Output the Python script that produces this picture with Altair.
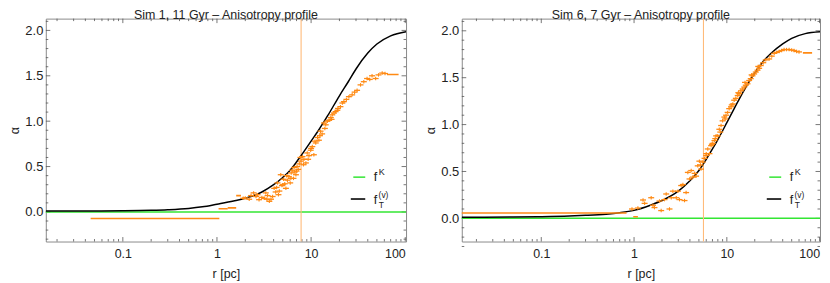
import altair as alt
import pandas as pd

# ---------------- data : left panel (Sim 1, 11 Gyr) ----------------
L_title = "Sim 1, 11 Gyr – Anisotropy profile"
L_xdomain = [0.0152, 102]
L_ydomain = [-0.326, 2.13]
L_vline = [7.83]

L_curve_r = [0.0152, 0.03, 0.05, 0.1, 0.2, 0.3, 0.5, 0.7, 1.0, 1.5, 2.0, 3.0, 4.0, 5.0,
             6.0, 7.0, 8.0, 10, 12, 15, 20, 25, 30, 40, 50, 70, 102]
L_curve_a = [0.010, 0.010, 0.011, 0.013, 0.018, 0.024, 0.038, 0.056, 0.085, 0.12, 0.15,
             0.22, 0.30, 0.38, 0.46, 0.55, 0.635, 0.78, 0.90, 1.06, 1.28, 1.44, 1.575,
             1.75, 1.85, 1.94, 1.985]

L_pts_r = [1.9, 2.0, 2.2, 2.45, 2.6, 2.8, 3.0, 3.17, 3.3, 3.45, 3.6, 3.75, 3.9, 4.05,
           4.2, 4.4, 4.6, 4.76, 4.9, 5.1, 5.25, 5.4, 5.6, 5.8, 6.0, 6.15, 6.3, 6.5, 6.7,
           6.9, 7.1, 7.3, 7.5, 7.8, 8.1, 8.4, 8.8, 9.1, 9.5, 9.9, 10.3, 10.7, 11.0, 11.2,
           11.7, 12.1, 12.6, 13.1, 13.7, 14.3, 14.9, 15.5, 16.2, 16.8, 17.5, 18.2, 19.3,
           20.5, 21.5, 22.3, 23.7, 25.2, 27.3, 29.0, 30.8, 33.5, 36.3, 39.3, 42.0, 44.4,
           48.5, 52.0, 56.9, 61.0,
           2.3, 2.7, 3.4, 4.3, 4.5, 5.0, 5.5, 6.1, 6.6, 7.0, 7.7, 8.3, 9.3, 10.0, 12.4,
           14.0, 16.5, 19.0]
L_pts_a = [0.15, 0.155, 0.14, 0.21, 0.17, 0.135, 0.16, 0.15, 0.21, 0.18, 0.117, 0.14,
           0.17, 0.26, 0.22, 0.32, 0.23, 0.41, 0.29, 0.36, 0.31, 0.26, 0.35, 0.39, 0.32,
           0.43, 0.46, 0.37, 0.44, 0.41, 0.50, 0.47, 0.53, 0.56, 0.61, 0.58, 0.54, 0.65,
           0.62, 0.68, 0.72, 0.63, 0.78, 0.76, 0.82, 0.79, 0.89, 0.86, 0.98, 0.96, 1.00,
           1.01, 1.04, 1.07, 1.09, 1.105, 1.14, 1.16, 1.20, 1.215, 1.24, 1.27, 1.29, 1.32,
           1.34, 1.40, 1.435, 1.47, 1.46, 1.50, 1.47, 1.51, 1.53, 1.525,
           0.18, 0.19, 0.14, 0.27, 0.19, 0.30, 0.40, 0.37, 0.49, 0.45, 0.60, 0.52, 0.58,
           0.70, 0.84, 0.92, 1.02, 1.12]

L_bin_lo = [0.0455, 1.04, 1.30, 1.60, 64.0]
L_bin_hi = [1.06, 1.30, 1.60, 1.80, 85.0]
L_bin_a = [-0.072, 0.035, 0.045, 0.18, 1.515]

# ---------------- data : right panel (Sim 6, 7 Gyr) ----------------
R_title = "Sim 6, 7 Gyr – Anisotropy profile"
R_xdomain = [0.0139, 101]
R_ydomain = [-0.247, 2.13]
R_vline = [5.6]

R_curve_r = [0.0139, 0.05, 0.1, 0.2, 0.3, 0.5, 0.7, 1.0, 1.5, 2.0, 3.0, 4.0, 5.0, 6.0,
             7.0, 8.0, 10, 12, 15, 20, 25, 30, 40, 50, 70, 101]
R_curve_a = [0.012, 0.014, 0.018, 0.025, 0.032, 0.045, 0.06, 0.085, 0.14, 0.19, 0.29,
             0.40, 0.51, 0.63, 0.74, 0.84, 1.02, 1.17, 1.35, 1.55, 1.68, 1.76, 1.86,
             1.92, 1.97, 1.99]

R_pts_r = [1.25, 1.3, 1.53, 1.6, 1.66, 1.88, 1.96, 2.13, 2.22, 2.41, 2.52, 2.62, 2.85,
           2.97, 3.09, 3.22, 3.36, 3.5, 3.64, 3.8, 3.96, 4.13, 4.3, 4.66, 4.86, 5.06,
           5.27, 5.5, 5.75, 5.98, 6.23, 6.5, 6.77, 7.05, 7.35, 7.66, 7.98, 8.3, 8.67, 9.0,
           9.4, 9.8, 10.2, 10.6, 11.1, 11.6, 12.0, 12.5, 13.1, 13.6, 14.2, 14.8, 15.4,
           16.0, 16.7, 17.4, 18.1, 18.9, 19.7, 20.5, 21.4, 22.3, 23.2, 24.7, 26.3, 28.6,
           30.5, 32.4, 34.5, 36.6, 39.0, 41.4, 44.0, 46.9, 50.0, 53.0, 56.5, 60.0,
           0.95, 1.1, 4.5, 5.2, 6.0, 6.9, 7.5, 8.5, 9.6, 11.3, 13.3, 15.7, 18.5, 21.8]
R_pts_a = [0.196, 0.16, 0.22, 0.14, 0.115, 0.185, 0.083, 0.20, 0.26, 0.10, 0.22, 0.29,
           0.22, 0.29, 0.20, 0.35, 0.36, 0.19, 0.275, 0.49, 0.42, 0.51, 0.44, 0.45, 0.56,
           0.61, 0.525, 0.60, 0.64, 0.67, 0.74, 0.69, 0.775, 0.80, 0.83, 0.88, 0.88, 0.95,
           0.99, 1.04, 1.08, 1.10, 1.13, 1.17, 1.19, 1.22, 1.26, 1.28, 1.31, 1.33, 1.36,
           1.38, 1.40, 1.42, 1.435, 1.47, 1.49, 1.52, 1.54, 1.56, 1.58, 1.60, 1.63, 1.66,
           1.69, 1.70, 1.73, 1.76, 1.77, 1.78, 1.79, 1.80, 1.80, 1.80, 1.795, 1.79, 1.78,
           1.775,
           0.10, 0.11, 0.48, 0.57, 0.69, 0.79, 0.85, 0.92, 1.06, 1.21, 1.34, 1.45, 1.53,
           1.62]

R_bin_lo = [0.005, 0.98, 66.0]
R_bin_hi = [0.83, 1.10, 83.0]
R_bin_a = [0.057, 0.018, 1.765]

# ---------------- shared axis / tick values ----------------
x_labels = [0.1, 1, 10, 100]
x_minor = [0.02, 0.03, 0.04, 0.05, 0.06, 0.07, 0.08, 0.09,
           0.2, 0.3, 0.4, 0.5, 0.6, 0.7, 0.8, 0.9,
           2, 3, 4, 5, 6, 7, 8, 9,
           20, 30, 40, 50, 60, 70, 80, 90]
y_labels = [0.0, 0.5, 1.0, 1.5, 2.0]
y_minor = [-0.3, -0.2, -0.1, 0.1, 0.2, 0.3, 0.4, 0.6, 0.7, 0.8, 0.9,
           1.1, 1.2, 1.3, 1.4, 1.6, 1.7, 1.8, 1.9, 2.1]
legend_labels = ["f", "K", "f", "(v)", "T"]

ORANGE = "#FF8A14"
VLINE = "#FFBB7A"
GREEN = "#33E633"
TICK = "#555555"
TEXT = "#222222"
FONT = "Liberation Sans"
FS = 12.5

XAXIS = alt.Axis(values=x_labels, format="~g", ticks=False, domain=False, grid=False,
                 title="r [pc]", labelPadding=6, titlePadding=8,
                 labelFont=FONT, labelFontSize=FS, labelColor=TEXT,
                 titleFont=FONT, titleFontSize=FS, titleFontWeight="normal",
                 titleColor=TEXT)
YAXIS = alt.Axis(values=y_labels, format=".1f", ticks=False, domain=False, grid=False,
                 title="α", labelPadding=3, titlePadding=3,
                 labelFont=FONT, labelFontSize=13, labelColor=TEXT,
                 titleFont=FONT, titleFontSize=FS, titleFontWeight="normal",
                 titleColor=TEXT)


def panel(title, xdom, ydom, vline, cr, ca, pr, pa, blo, bhi, ba, W, H):
    xs = alt.Scale(type="log", domain=xdom, nice=False, zero=False)
    ys = alt.Scale(domain=ydom, nice=False, zero=False)
    layers = []

    def X():
        return alt.X("r:Q", scale=xs, axis=XAXIS)

    def Y():
        return alt.Y("a:Q", scale=ys, axis=YAXIS)

    one = pd.DataFrame({"k": [0]})

    # frame ticks (inside)
    for vals, ln in ((x_labels, 4.5), (x_minor, 2.5)):
        d = pd.DataFrame({"r": [v for v in vals if xdom[0] <= v <= xdom[1]]})
        b = alt.Chart(d).mark_rule(color=TICK, strokeWidth=0.8)
        layers.append(b.encode(x=X(), y=alt.value(H), y2=alt.value(H - ln)))
        layers.append(b.encode(x=X(), y=alt.value(0), y2=alt.value(ln)))
    for vals, ln in ((y_labels, 4.5), (y_minor, 2.5)):
        d = pd.DataFrame({"a": vals})
        b = alt.Chart(d).mark_rule(color=TICK, strokeWidth=0.8)
        layers.append(b.encode(y=Y(), x=alt.value(0), x2=alt.value(ln)))
        layers.append(b.encode(y=Y(), x=alt.value(W), x2=alt.value(W - ln)))

    # green f^K line at 0
    layers.append(alt.Chart(pd.DataFrame({"a": [0.0]})).mark_rule(
        color=GREEN, strokeWidth=1.5).encode(y=Y()))
    # vertical reference line
    layers.append(alt.Chart(pd.DataFrame({"r": vline})).mark_rule(
        color=VLINE, strokeWidth=1.1).encode(x=X()))
    # black model curve
    layers.append(alt.Chart(pd.DataFrame({"r": cr, "a": ca})).mark_line(
        color="black", strokeWidth=1.5, interpolate="monotone", clip=True).encode(
        x=X(), y=Y()))
    # wide bins
    layers.append(alt.Chart(pd.DataFrame({"r": blo, "r2": bhi, "a": ba})).mark_rule(
        color=ORANGE, strokeWidth=1.6, clip=True).encode(
        x=X(), x2="r2:Q", y=Y()))
    # data points with error bars
    dp = pd.DataFrame({"r": pr, "a": pa})
    layers.append(alt.Chart(dp).mark_tick(orient="horizontal", size=6, thickness=1.3,
                                          color=ORANGE, opacity=1).encode(x=X(), y=Y()))
    layers.append(alt.Chart(dp).mark_tick(orient="vertical", size=3.5, thickness=1.1,
                                          color=ORANGE, opacity=1).encode(x=X(), y=Y()))

    # legend
    layers.append(alt.Chart(one).mark_rule(color=GREEN, strokeWidth=1.5).encode(
        x=alt.value(309), x2=alt.value(321), y=alt.value(159.3)))
    layers.append(alt.Chart(one).mark_rule(color="#333333", strokeWidth=2).encode(
        x=alt.value(306.5), x2=alt.value(321), y=alt.value(181.3)))
    txt = [(legend_labels[0], 329.5, 163.3, 12.5),
           (legend_labels[1], 334.6, 157.5, 9),
           (legend_labels[2], 329.5, 186.3, 12.5),
           (legend_labels[3], 334.4, 180.5, 8.5),
           (legend_labels[4], 334.6, 190.0, 8.5)]
    for t, x, y, fs in txt:
        layers.append(alt.Chart(one).mark_text(
            text=t, align="left", baseline="alphabetic", font=FONT, fontSize=fs,
            color=TEXT).encode(x=alt.value(x), y=alt.value(y)))

    return alt.layer(*layers).properties(
        width=W, height=H,
        title=alt.TitleParams(title, font=FONT, fontSize=FS, fontWeight="normal",
                              color=TEXT, anchor="middle", frame="group", offset=-3),
    )


left = panel(L_title, L_xdomain, L_ydomain, L_vline, L_curve_r, L_curve_a,
             L_pts_r, L_pts_a, L_bin_lo, L_bin_hi, L_bin_a, 362, 224)
right = panel(R_title, R_xdomain, R_ydomain, R_vline, R_curve_r, R_curve_a,
              R_pts_r, R_pts_a, R_bin_lo, R_bin_hi, R_bin_a, 360, 224)

chart = alt.hconcat(left, right, spacing=56, bounds="flush").properties(
    padding={"left": 0, "top": -1, "right": 0, "bottom": 0},
    background="white",
).configure_view(stroke="#8a8a8a", strokeWidth=1)

chart.save("out.html", embed_options={"renderer": "svg", "actions": False})
